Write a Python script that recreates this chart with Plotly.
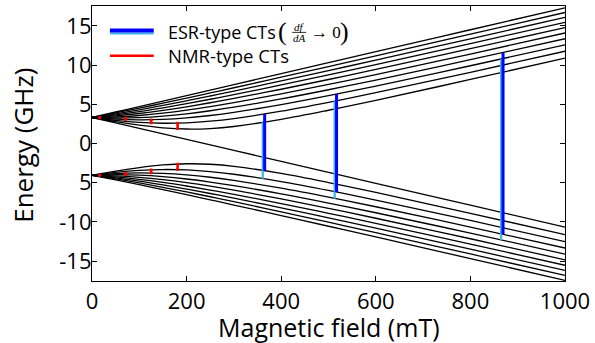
import plotly.graph_objects as go

# ---------------- data ----------------
B_FIELD = [0, 50, 100, 150, 200, 250, 300, 400, 500, 600, 800, 1000]

# upper manifold (F=5 at zero field), labelled by m
upper_p5 = [3.32, 4.020, 4.719, 5.419, 6.119, 6.819, 7.519, 8.919, 10.319, 11.718, 14.518, 17.317]
upper_p4 = [3.32, 3.900, 4.512, 5.145, 5.793, 6.451, 7.116, 8.463, 9.824, 11.194, 13.952, 16.724]
upper_p3 = [3.32, 3.778, 4.296, 4.857, 5.448, 6.061, 6.690, 7.982, 9.304, 10.646, 13.363, 16.108]
upper_p2 = [3.32, 3.651, 4.069, 4.551, 5.081, 5.646, 6.237, 7.472, 8.755, 10.068, 12.748, 15.469]
upper_p1 = [3.32, 3.521, 3.830, 4.226, 4.688, 5.200, 5.750, 6.926, 8.170, 9.456, 12.102, 14.803]
upper_0 = [3.32, 3.385, 3.576, 3.875, 4.262, 4.716, 5.220, 6.336, 7.543, 8.804, 11.421, 14.107]
upper_n1 = [3.32, 3.245, 3.305, 3.493, 3.792, 4.180, 4.636, 5.689, 6.861, 8.102, 10.698, 13.375]
upper_n2 = [3.32, 3.100, 3.013, 3.069, 3.262, 3.571, 3.973, 4.963, 6.107, 7.336, 9.925, 12.602]
upper_n3 = [3.32, 2.947, 2.692, 2.584, 2.640, 2.850, 3.188, 4.123, 5.254, 6.485, 9.088, 11.780]
upper_n4 = [3.32, 2.788, 2.334, 2.002, 1.849, 1.911, 2.172, 3.082, 4.245, 5.511, 8.170, 10.898]
upper_n5 = [3.32, 2.620, 1.920, 1.220, 0.520, -0.180, -0.880, -2.279, -3.679, -5.079, -7.879, -10.678]

# lower manifold (F=4 at zero field)
lower_p4 = [-4.06, -4.638, -5.250, -5.883, -6.530, -7.188, -7.854, -9.200, -10.562, -11.932, -14.690, -17.461]
lower_p3 = [-4.06, -4.515, -5.034, -5.595, -6.185, -6.798, -7.428, -8.720, -10.042, -11.383, -14.101, -16.846]
lower_p2 = [-4.06, -4.389, -4.807, -5.289, -5.819, -6.383, -6.974, -8.210, -9.493, -10.806, -13.486, -16.207]
lower_p1 = [-4.06, -4.258, -4.568, -4.964, -5.426, -5.938, -6.487, -7.664, -8.908, -10.194, -12.840, -15.541]
lower_0 = [-4.06, -4.123, -4.314, -4.613, -4.999, -5.453, -5.958, -7.074, -8.280, -9.542, -12.159, -14.844]
lower_n1 = [-4.06, -3.983, -4.043, -4.231, -4.530, -4.917, -5.373, -6.426, -7.598, -8.839, -11.436, -14.113]
lower_n2 = [-4.06, -3.837, -3.750, -3.807, -4.000, -4.309, -4.710, -5.701, -6.845, -8.073, -10.663, -13.340]
lower_n3 = [-4.06, -3.685, -3.430, -3.322, -3.377, -3.588, -3.926, -4.860, -5.991, -7.222, -9.826, -12.517]
lower_n4 = [-4.06, -3.525, -3.071, -2.740, -2.587, -2.649, -2.910, -3.820, -4.982, -6.249, -8.908, -11.635]

# ESR-type clock transitions
esr_field_blue = [365, 517, 869]
esr_field_cyan = [361, 513, 865]
esr_blue_top = [3.76, 6.31, 11.59]
esr_blue_bottom = [-3.46, -6.20, -11.55]
esr_cyan_top = [2.72, 5.46, 10.81]
esr_cyan_bottom = [-4.50, -7.05, -12.33]

# NMR-type clock transitions
nmr_field = [16, 71, 125, 181]
nmr_upper_top = [3.326, 3.254, 3.024, 2.600]
nmr_upper_bottom = [3.281, 3.045, 2.619, 1.884]
nmr_lower_top = [-4.019, -3.783, -3.357, -2.621]
nmr_lower_bottom = [-4.064, -3.992, -3.763, -3.338]

X_TICKS = [0, 200, 400, 600, 800, 1000]
Y_TICKS = [-15, -10, -5, 0, 5, 10, 15]
Y_TICK_TEXT = ["-15", "-10", "5", "0", "5", "10", "15"]

X_TITLE = "Magnetic field (mT)"
Y_TITLE = "Energy (GHz)"
ESR_LABEL = "ESR-type CTs"
NMR_LABEL = "NMR-type CTs"

# ---------------- figure ----------------
W, H = 595, 343
L, R, T, Bm = 92, 28, 5, 62
PW, PH = W - L - R, H - T - Bm


def px(x):
    return (x - L) / PW


def py(y):
    return (H - Bm - y) / PH


FONT = "Open Sans"
fig = go.Figure()

levels = [upper_p5, upper_p4, upper_p3, upper_p2, upper_p1, upper_0, upper_n1,
          upper_n2, upper_n3, upper_n4, upper_n5,
          lower_p4, lower_p3, lower_p2, lower_p1, lower_0, lower_n1, lower_n2,
          lower_n3, lower_n4]
for lv in levels:
    fig.add_trace(go.Scatter(x=B_FIELD, y=lv, mode="lines",
                             line=dict(color="black", width=1.3, shape="spline"),
                             hoverinfo="skip", showlegend=False))


def segs(xs, tops, bots):
    xx, yy = [], []
    for x, t, b in zip(xs, tops, bots):
        xx += [x, x, None]
        yy += [t, b, None]
    return xx, yy


cx, cy = segs(esr_field_cyan, esr_cyan_top, esr_cyan_bottom)
fig.add_trace(go.Scatter(x=cx, y=cy, mode="lines", line=dict(color="#3ab4e8", width=2.2),
                         showlegend=False, hoverinfo="skip"))
bx, by = segs(esr_field_blue, esr_blue_top, esr_blue_bottom)
fig.add_trace(go.Scatter(x=bx, y=by, mode="lines", line=dict(color="#0000ff", width=3),
                         showlegend=False, hoverinfo="skip"))

for tops, bots in ((nmr_upper_top, nmr_upper_bottom), (nmr_lower_top, nmr_lower_bottom)):
    rx, ry = segs(nmr_field, tops, bots)
    fig.add_trace(go.Scatter(x=rx, y=ry, mode="lines+markers",
                             line=dict(color="#ff0000", width=2.6),
                             marker=dict(color="#ff0000", size=2.6, symbol="square"),
                             showlegend=False, hoverinfo="skip"))

axis_common = dict(ticks="inside", ticklen=5, tickwidth=1, tickcolor="black",
                   showline=True, linecolor="black", linewidth=1.2, mirror="ticks",
                   showgrid=False, zeroline=False,
                   tickfont=dict(family=FONT, size=22, color="black"))
fig.update_xaxes(range=[0, 1000], tickvals=X_TICKS, **axis_common)
fig.update_yaxes(range=[-17.55, 17.55], tickvals=Y_TICKS, ticktext=Y_TICK_TEXT,
                 ticklabelstandoff=-5, **axis_common)

shapes = [
    dict(type="line", xref="paper", yref="paper", x0=px(110), x1=px(154), y0=py(32.5), y1=py(32.5),
         line=dict(color="#3ab4e8", width=2)),
    dict(type="line", xref="paper", yref="paper", x0=px(110), x1=px(154), y0=py(29.6), y1=py(29.6),
         line=dict(color="#0000ff", width=4)),
    dict(type="line", xref="paper", yref="paper", x0=px(110), x1=px(154), y0=py(55), y1=py(55),
         line=dict(color="#ff0000", width=2.5)),
    dict(type="line", xref="paper", yref="paper", x0=px(293), x1=px(307), y0=py(31.5), y1=py(31.5),
         line=dict(color="black", width=0.8)),
]

SERIF = "Liberation Serif"
annotations = [
    dict(text=ESR_LABEL, x=px(166), y=py(31), xanchor="left", yanchor="middle",
         font=dict(family=FONT, size=18, color="black")),
    dict(text=NMR_LABEL, x=px(166), y=py(55), xanchor="left", yanchor="middle",
         font=dict(family=FONT, size=18.5, color="black")),
    dict(text="(", x=px(283), y=py(31), xanchor="center", yanchor="middle",
         font=dict(family=SERIF, size=26, color="black")),
    dict(text="<i>df</i>", x=px(300), y=py(26), xanchor="center", yanchor="middle",
         font=dict(family=SERIF, size=11, color="black")),
    dict(text="<i>dA</i>", x=px(300), y=py(37), xanchor="center", yanchor="middle",
         font=dict(family=SERIF, size=11, color="black")),
    dict(text="→ 0", x=px(310), y=py(31.5), xanchor="left", yanchor="middle",
         font=dict(family=SERIF, size=17, color="black")),
    dict(text=")", x=px(346), y=py(31), xanchor="center", yanchor="middle",
         font=dict(family=SERIF, size=26, color="black")),
    dict(text=X_TITLE, x=px(330), y=py(327), xanchor="center", yanchor="middle",
         font=dict(family=FONT, size=25, color="black")),
    dict(text=Y_TITLE, x=px(23), y=py(145), xanchor="center", yanchor="middle", textangle=-90,
         font=dict(family=FONT, size=26, color="black")),
]
for a in annotations:
    a.update(xref="paper", yref="paper", showarrow=False)

fig.update_layout(width=W, height=H, margin=dict(l=L, r=R, t=T, b=Bm),
                  plot_bgcolor="white", paper_bgcolor="white", showlegend=False,
                  font=dict(family=FONT, color="black"),
                  shapes=shapes, annotations=annotations)

fig.write_html("out.html", config={"displayModeBar": False},
               post_script="document.body.style.margin='0px';document.body.style.overflow='hidden';")
